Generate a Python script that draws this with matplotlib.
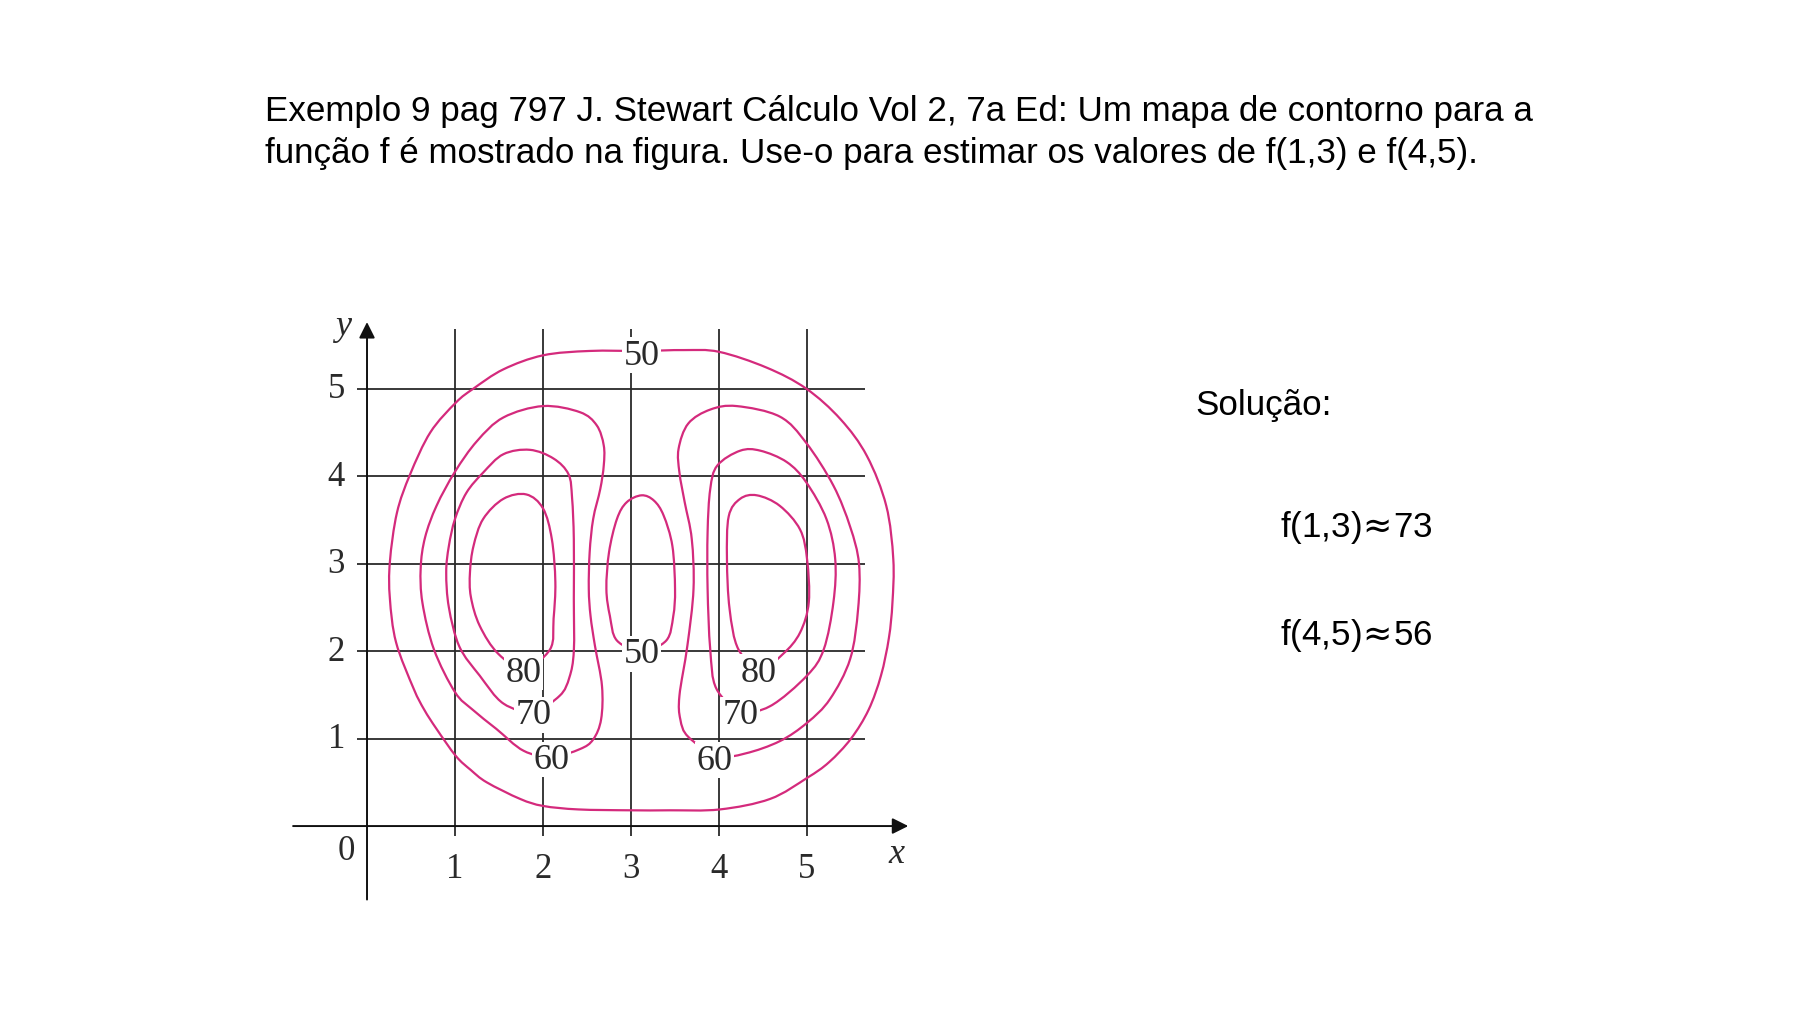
#!/usr/bin/env python3
"""
Contour map from Stewart, Example 9 p.797 - f(1,3) and f(4,5) estimate slide.
"""
import numpy as np
import matplotlib
matplotlib.use('Agg')
import matplotlib.pyplot as plt
from matplotlib.path import Path
from matplotlib.patches import PathPatch

INK   = '#2a2a2a'
PINK  = '#d42a7c'
SERIF = 'Liberation Serif'
SANS  = ['Liberation Sans', 'DejaVu Sans']

# level curves, vertices (closed loops)
lvl50_outer = [(3.12, 5.43), (3.60, 5.44), (4.00, 5.42), (4.54, 5.24), (4.99, 5.00),
               (5.38, 4.65), (5.68, 4.23), (5.90, 3.66), (5.98, 3.05), (5.97, 2.55),
               (5.93, 2.15), (5.84, 1.72), (5.70, 1.33), (5.50, 1.00), (5.25, 0.73),
               (5.00, 0.55), (4.58, 0.31), (4.01, 0.19), (3.44, 0.18), (2.99, 0.18),
               (2.40, 0.19), (2.00, 0.23), (1.74, 0.31), (1.36, 0.50), (1.18, 0.64),
               (1.01, 0.80), (0.79, 1.11), (0.65, 1.33), (0.53, 1.57), (0.33, 2.10),
               (0.26, 2.60), (0.26, 3.02), (0.34, 3.58), (0.49, 4.02), (0.72, 4.50),
               (1.01, 4.84), (1.21, 5.00), (1.55, 5.22), (2.00, 5.38), (2.53, 5.43)]
lvl50_mid = [(3.12, 2.00), (2.84, 2.12), (2.76, 2.40), (2.72, 2.71), (2.75, 3.13),
             (2.84, 3.51), (2.95, 3.70), (3.12, 3.78), (3.26, 3.72), (3.37, 3.55),
             (3.47, 3.20), (3.50, 2.71), (3.48, 2.40), (3.40, 2.12)]
lvl60_left = [(2.10, 0.79), (1.78, 0.86), (1.47, 1.11), (1.20, 1.33), (1.00, 1.53),
              (0.76, 2.02), (0.63, 2.55), (0.61, 2.95), (0.66, 3.30), (0.79, 3.66),
              (1.00, 4.05), (1.25, 4.40), (1.55, 4.67), (2.00, 4.80), (2.42, 4.73),
              (2.61, 4.58), (2.69, 4.35), (2.69, 4.12), (2.65, 3.85), (2.57, 3.51),
              (2.53, 3.13), (2.52, 2.71), (2.54, 2.40), (2.59, 2.06), (2.67, 1.60),
              (2.66, 1.22), (2.57, 0.99), (2.42, 0.88)]
lvl70_left = [(1.89, 1.31), (1.55, 1.40), (1.28, 1.72), (1.05, 2.05), (0.93, 2.50),
              (0.90, 2.90), (0.93, 3.20), (1.00, 3.51), (1.13, 3.81), (1.32, 4.04),
              (1.55, 4.25), (1.85, 4.30), (2.12, 4.20), (2.29, 4.02), (2.33, 3.75),
              (2.35, 3.28), (2.35, 2.60), (2.35, 2.00), (2.30, 1.70), (2.19, 1.49)]
lvl80_left = [(1.78, 1.80), (1.49, 1.97), (1.28, 2.29), (1.18, 2.62), (1.17, 2.90),
              (1.21, 3.20), (1.32, 3.51), (1.55, 3.74), (1.81, 3.79), (2.00, 3.63),
              (2.10, 3.28), (2.14, 2.79), (2.12, 2.37), (2.08, 2.02)]
lvl60_right = [(3.98, 0.80), (4.30, 0.83), (4.69, 0.97), (5.00, 1.18), (5.26, 1.45),
               (5.49, 1.91), (5.58, 2.48), (5.59, 3.00), (5.49, 3.42), (5.30, 3.89),
               (4.99, 4.38), (4.69, 4.68), (4.20, 4.80), (3.90, 4.76), (3.65, 4.60),
               (3.54, 4.31), (3.55, 4.04), (3.61, 3.70), (3.69, 3.28), (3.71, 2.71),
               (3.64, 2.06), (3.55, 1.49), (3.56, 1.22), (3.65, 1.02)]
lvl70_right = [(4.25, 1.32), (4.58, 1.37), (5.00, 1.72), (5.19, 2.02), (5.30, 2.56),
               (5.32, 3.05), (5.22, 3.51), (4.99, 3.93), (4.77, 4.16), (4.47, 4.29),
               (4.24, 4.29), (3.98, 4.12), (3.90, 3.85), (3.87, 3.36), (3.87, 2.71),
               (3.90, 2.02), (3.97, 1.57)]
lvl80_right = [(4.47, 1.80), (4.73, 1.97), (4.92, 2.21), (5.02, 2.56), (5.00, 3.05),
               (4.92, 3.39), (4.69, 3.66), (4.43, 3.78), (4.24, 3.74), (4.11, 3.54),
               (4.09, 3.05), (4.12, 2.48), (4.22, 2.02)]

curves = [lvl50_outer, lvl50_mid, lvl60_left, lvl70_left, lvl80_left,
          lvl60_right, lvl70_right, lvl80_right]

level_labels = ['50', '50', '80', '70', '60', '80', '70', '60']
level_label_xy = [(3.12, 5.38), (3.12, 1.97), (1.78, 1.76), (1.89, 1.27), (2.10, 0.76),
                  (4.45, 1.76), (4.24, 1.27), (3.95, 0.75)]

ticks = [1, 2, 3, 4, 5]


def smooth_loop(pts):
    # closed Catmull-Rom through the read vertices, drawn as cubic Beziers
    p = np.asarray(pts, float)
    n = len(p)
    verts = [p[0]]
    codes = [Path.MOVETO]
    for i in range(n):
        p0, p1, p2, p3 = p[i - 1], p[i], p[(i + 1) % n], p[(i + 2) % n]
        verts += [p1 + (p2 - p0) / 6, p2 - (p3 - p1) / 6, p2]
        codes += [Path.CURVE4] * 3
    return Path(verts, codes)


fig = plt.figure(figsize=(18, 10.12), dpi=100, facecolor='white')

# plot area: x -1..6.5, y -1..6
ax = fig.add_axes([0.155, 0.0963, 0.3667, 0.6052])
ax.set_xlim(-1, 6.5)
ax.set_ylim(-1, 6)
ax.axis('off')

ax.vlines(ticks, -0.11, 5.68, color=INK, lw=1.3, zorder=1)
ax.hlines(ticks, -0.11, 5.66, color=INK, lw=1.3, zorder=1)

ax.annotate('', xy=(6.15, 0), xytext=(-0.84, 0),
            arrowprops=dict(arrowstyle='-|>', color='#111111', lw=1.4,
                            mutation_scale=24, shrinkA=0, shrinkB=0), zorder=2)
ax.annotate('', xy=(0, 5.76), xytext=(0, -0.84),
            arrowprops=dict(arrowstyle='-|>', color='#111111', lw=1.4,
                            mutation_scale=24, shrinkA=0, shrinkB=0), zorder=2)

for c in curves:
    ax.add_patch(PathPatch(smooth_loop(c), facecolor='none', edgecolor=PINK,
                           lw=1.6, zorder=3))

for txt, (lx, ly) in zip(level_labels, level_label_xy):
    ax.text(lx, ly, txt, ha='center', va='center', fontsize=26, family=SERIF,
            color=INK, zorder=5,
            bbox=dict(facecolor='white', edgecolor='none', pad=1.0))

for t in ticks:
    ax.text(t, -0.49, str(t), ha='center', va='center', fontsize=25,
            family=SERIF, color=INK)
    ax.text(-0.35, t, str(t), ha='center', va='center', fontsize=25,
            family=SERIF, color=INK)
ax.text(-0.24, -0.28, '0', ha='center', va='center', fontsize=25,
        family=SERIF, color=INK)
ax.text(6.02, -0.31, 'x', ha='center', va='center', fontsize=26,
        family=SERIF, style='italic', color=INK)
ax.text(-0.27, 5.72, 'y', ha='center', va='center', fontsize=26,
        family=SERIF, style='italic', color=INK)

# slide text
fig.text(265 / 1800, 1 - 112 / 1012,
         'Exemplo 9 pag 797 J. Stewart Cálculo Vol 2, 7a Ed: Um mapa de contorno para a',
         ha='left', va='center', fontsize=25.2, family=SANS, color='black')
fig.text(265 / 1800, 1 - 153 / 1012,
         'função f é mostrado na figura. Use-o para estimar os valores de f(1,3) e f(4,5).',
         ha='left', va='center', fontsize=25.2, family=SANS, color='black')
fig.text(1195 / 1800, 1 - 405 / 1012, 'Solução:',
         ha='left', va='center', fontsize=25.2, family=SANS, color='black')
fig.text(1280 / 1800, 1 - 527 / 1012, r'f(1,3)$\!\approx\!$73',
         ha='left', va='center', fontsize=25.2, family=SANS, color='black')
fig.text(1280 / 1800, 1 - 635 / 1012, r'f(4,5)$\!\approx\!$56',
         ha='left', va='center', fontsize=25.2, family=SANS, color='black')

fig.savefig('out.png', dpi=100, facecolor='white')
plt.close(fig)
